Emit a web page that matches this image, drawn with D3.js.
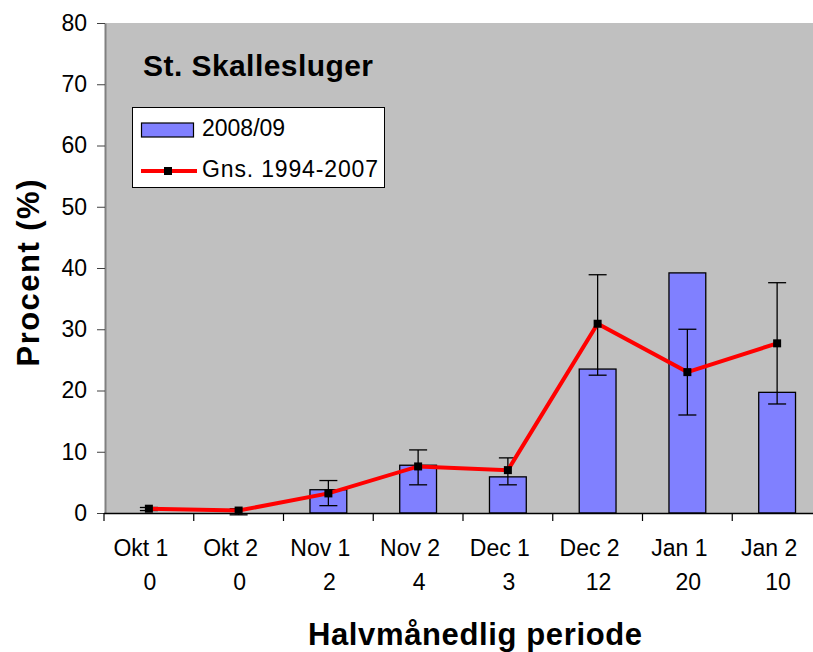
<!DOCTYPE html>
<html>
<head>
<meta charset="utf-8">
<script src="https://cdn.jsdelivr.net/npm/d3@7"></script>
<style>
  body { margin: 0; background: #fff; }
  svg { font-family: "Liberation Sans", Arial, sans-serif; }
</style>
</head>
<body>
<script>
// chart data
var categories = ["Okt 1", "Okt 2", "Nov 1", "Nov 2", "Dec 1", "Dec 2", "Jan 1", "Jan 2"];
var counts = ["0", "0", "2", "4", "3", "12", "20", "10"];
var season0809 = [0, 0, 3.8, 7.8, 5.9, 23.5, 39.2, 19.7];
var avg9407 = [0.7, 0.4, 3.2, 7.6, 7.0, 30.9, 23.0, 27.7];
var errLow = [0.4, -0.3, 1.2, 4.6, 4.6, 22.5, 16.0, 17.8];
var errHigh = [0.9, 0.7, 5.3, 10.3, 9.0, 38.9, 30.0, 37.6];
var yTicks = [0, 10, 20, 30, 40, 50, 60, 70, 80];

var w = 813, h = 652;
var plotLeft = 104, plotRight = 822, plotTop = 23, plotBottom = 513;

var svg = d3.select("body").append("svg")
  .attr("width", w)
  .attr("height", h);

var x = d3.scaleBand()
  .domain(categories)
  .range([plotLeft, plotRight])
  .paddingInner(0.59)
  .paddingOuter(0.295);

var y = d3.scaleLinear()
  .domain([0, 80])
  .range([plotBottom, plotTop]);

var cx = function(i) { return x(categories[i]) + x.bandwidth() / 2; };

// plot area
svg.append("rect")
  .attr("x", plotLeft + 1)
  .attr("y", plotTop)
  .attr("width", plotRight - plotLeft)
  .attr("height", plotBottom - plotTop)
  .attr("fill", "#c0c0c0");

// bars
svg.selectAll(".bar")
  .data(season0809)
  .enter().append("rect")
  .attr("class", "bar")
  .attr("x", function(d, i) { return x(categories[i]); })
  .attr("y", function(d) { return y(d); })
  .attr("width", x.bandwidth())
  .attr("height", function(d) { return plotBottom - y(d); })
  .attr("fill", "#8080ff")
  .attr("stroke", "#000")
  .attr("stroke-width", 1.3);

// error bars
var eb = svg.selectAll(".err")
  .data(categories)
  .enter().append("g")
  .attr("class", "err")
  .attr("stroke", "#000")
  .attr("stroke-width", 1.3);
eb.append("line")
  .attr("x1", function(d, i) { return cx(i); })
  .attr("x2", function(d, i) { return cx(i); })
  .attr("y1", function(d, i) { return y(errLow[i]); })
  .attr("y2", function(d, i) { return y(errHigh[i]); });
eb.append("line")
  .attr("x1", function(d, i) { return cx(i) - 9; })
  .attr("x2", function(d, i) { return cx(i) + 9; })
  .attr("y1", function(d, i) { return y(errLow[i]); })
  .attr("y2", function(d, i) { return y(errLow[i]); });
eb.append("line")
  .attr("x1", function(d, i) { return cx(i) - 9; })
  .attr("x2", function(d, i) { return cx(i) + 9; })
  .attr("y1", function(d, i) { return y(errHigh[i]); })
  .attr("y2", function(d, i) { return y(errHigh[i]); });

// average line
var line = d3.line()
  .x(function(d, i) { return cx(i); })
  .y(function(d) { return y(d); });

svg.append("path")
  .datum(avg9407)
  .attr("d", line)
  .attr("fill", "none")
  .attr("stroke", "#ff0000")
  .attr("stroke-width", 4);

svg.selectAll(".mark")
  .data(avg9407)
  .enter().append("rect")
  .attr("class", "mark")
  .attr("x", function(d, i) { return cx(i) - 4; })
  .attr("y", function(d) { return y(d) - 4; })
  .attr("width", 8)
  .attr("height", 8)
  .attr("fill", "#000");

// y axis
var yAxis = d3.axisLeft(y)
  .tickValues(yTicks)
  .tickSize(8)
  .tickPadding(10)
  .tickSizeOuter(0);

var gy = svg.append("g")
  .attr("transform", "translate(" + (plotLeft + 1) + ",0)")
  .call(yAxis)
  .attr("font-size", 23)
  .attr("font-family", "'Liberation Sans', Arial, sans-serif");
gy.select(".domain").attr("stroke", "#808080").attr("stroke-width", 2);
gy.selectAll(".tick line").attr("stroke", "#404040");
gy.selectAll(".tick text").attr("fill", "#000");

// x axis
svg.append("line")
  .attr("x1", plotLeft)
  .attr("x2", plotRight)
  .attr("y1", plotBottom + 0.5)
  .attr("y2", plotBottom + 0.5)
  .attr("stroke", "#000")
  .attr("stroke-width", 1.3);

var step = x.step();
svg.selectAll(".xtick")
  .data(categories)
  .enter().append("line")
  .attr("class", "xtick")
  .attr("x1", function(d, i) { return cx(i) - step / 2; })
  .attr("x2", function(d, i) { return cx(i) - step / 2; })
  .attr("y1", plotBottom)
  .attr("y2", plotBottom + 8)
  .attr("stroke", "#000")
  .attr("stroke-width", 1.2);

svg.selectAll(".xlab")
  .data(categories)
  .enter().append("text")
  .attr("class", "xlab")
  .attr("x", function(d, i) { return cx(i) - 8; })
  .attr("y", 556)
  .attr("text-anchor", "middle")
  .style("font-size", "23px")
  .text(function(d) { return d; });

svg.selectAll(".xcount")
  .data(counts)
  .enter().append("text")
  .attr("class", "xcount")
  .attr("x", function(d, i) { return cx(i) + 1; })
  .attr("y", 590)
  .attr("text-anchor", "middle")
  .style("font-size", "23px")
  .text(function(d) { return d; });

// axis titles
svg.append("text")
  .attr("x", 475)
  .attr("y", 645)
  .attr("text-anchor", "middle")
  .style("font-size", "31px")
  .style("font-weight", "bold")
  .attr("textLength", 334)
  .text("Halvmånedlig periode");

svg.append("text")
  .attr("transform", "translate(39,273) rotate(-90)")
  .attr("text-anchor", "middle")
  .style("font-size", "31px")
  .style("font-weight", "bold")
  .attr("textLength", 187)
  .text("Procent (%)");

// chart title
svg.append("text")
  .attr("x", 143)
  .attr("y", 76)
  .style("font-size", "30px")
  .style("font-weight", "bold")
  .attr("textLength", 230)
  .text("St. Skallesluger");

// legend
var lg = svg.append("g");
lg.append("rect")
  .attr("x", 132.5)
  .attr("y", 107.5)
  .attr("width", 252)
  .attr("height", 80)
  .attr("fill", "#fff")
  .attr("stroke", "#000")
  .attr("stroke-width", 1);
lg.append("rect")
  .attr("x", 141.5)
  .attr("y", 123)
  .attr("width", 52)
  .attr("height", 14)
  .attr("fill", "#8080ff")
  .attr("stroke", "#000")
  .attr("stroke-width", 1.2);
lg.append("text")
  .attr("x", 202)
  .attr("y", 136)
  .style("font-size", "23px")
  .text("2008/09");
lg.append("line")
  .attr("x1", 141)
  .attr("x2", 197)
  .attr("y1", 171)
  .attr("y2", 171)
  .attr("stroke", "#ff0000")
  .attr("stroke-width", 4);
lg.append("rect")
  .attr("x", 164)
  .attr("y", 167)
  .attr("width", 8)
  .attr("height", 8)
  .attr("fill", "#000");
lg.append("text")
  .attr("x", 202)
  .attr("y", 177)
  .style("font-size", "23px")
  .attr("textLength", 176)
  .text("Gns.  1994-2007");
</script>
</body>
</html>
